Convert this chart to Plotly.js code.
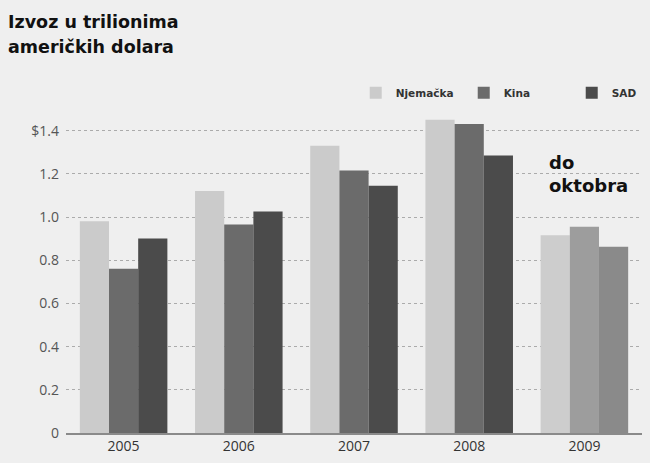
<!DOCTYPE html>
<html>
<head>
<meta charset="utf-8">
<script src="https://cdn.plot.ly/plotly-3.0.1.min.js"></script>
<style>html,body{margin:0;padding:0;background:#efefef;}#chart{width:650px;height:463px;}</style>
</head>
<body>
<div id="chart"></div>
<script>
const years = ['2005', '2006', '2007', '2008', '2009'];
const njemacka = [0.98, 1.12, 1.33, 1.45, 0.915];
const kina = [0.76, 0.965, 1.215, 1.43, 0.955];
const sad = [0.90, 1.025, 1.145, 1.285, 0.862];
const seriesNames = ['Njemačka', 'Kina', 'SAD'];
const titleLines = ['Izvoz u trilionima', 'američkih dolara'];
const noteText = 'do<br>oktobra';
const yTickVals = [0, 0.2, 0.4, 0.6, 0.8, 1.0, 1.2, 1.4];
const yTickText = ['0', '0.2', '0.4', '0.6', '0.8', '1.0', '1.2', '$1.4'];

const colNj = ['#cbcbcb', '#cbcbcb', '#cbcbcb', '#cbcbcb', '#cdcdcd'];
const colKi = ['#6b6b6b', '#6b6b6b', '#6b6b6b', '#6b6b6b', '#9d9d9d'];
const colSa = ['#4b4b4b', '#4b4b4b', '#4b4b4b', '#4b4b4b', '#8a8a8a'];

const traces = [
  {type: 'bar', name: seriesNames[0], x: years, y: njemacka, marker: {color: colNj}},
  {type: 'bar', name: seriesNames[1], x: years, y: kina, marker: {color: colKi}},
  {type: 'bar', name: seriesNames[2], x: years, y: sad, marker: {color: colSa}}
];

const boldFont = {family: 'DejaVu Sans, Liberation Sans, sans-serif', size: 17.5, color: '#111', weight: 'bold'};

const layout = {
  width: 650, height: 463,
  paper_bgcolor: '#efefef', plot_bgcolor: '#efefef',
  margin: {l: 66, r: 8, t: 109, b: 30, autoexpand: false},
  barmode: 'group', bargap: 0.24, bargroupgap: 0,
  xaxis: {
    type: 'category', showgrid: false, zeroline: false,
    showline: true, linecolor: '#8a8a8a', linewidth: 1.5,
    ticks: '', tickfont: {family: 'Open Sans, DejaVu Sans, sans-serif', size: 14, color: '#333'}
  },
  yaxis: {
    range: [0, 1.5], tickvals: yTickVals, ticktext: yTickText,
    showgrid: true, gridcolor: '#ababab', griddash: 'dot', gridwidth: 1,
    zeroline: false, ticks: '', ticklabelstandoff: 6,
    tickfont: {family: 'Open Sans, DejaVu Sans, sans-serif', size: 14, color: '#555'}
  },
  legend: {
    orientation: 'h', x: 0.503, xanchor: 'left', y: 1.05, yanchor: 'middle',
    bgcolor: 'rgba(0,0,0,0)', entrywidth: 63, entrywidthmode: 'pixels', itemwidth: 30,
    font: {family: 'DejaVu Sans, Liberation Sans, sans-serif', size: 10.5, color: '#333', weight: 'bold'}
  },
  annotations: [
    {text: titleLines[0], xref: 'paper', yref: 'paper', x: -0.104, xanchor: 'left',
     y: 1.27, yanchor: 'middle', showarrow: false, font: boldFont},
    {text: titleLines[1], xref: 'paper', yref: 'paper', x: -0.104, xanchor: 'left',
     y: 1.19, yanchor: 'middle', showarrow: false, font: boldFont},
    {text: noteText, xref: 'paper', yref: 'paper',
     x: 0.835, xanchor: 'left', y: 0.80, yanchor: 'middle', align: 'left', showarrow: false,
     font: {family: 'DejaVu Sans, Liberation Sans, sans-serif', size: 18, color: '#111', weight: 'bold'}}
  ],
  showlegend: true
};

Plotly.newPlot('chart', traces, layout, {displayModeBar: false, staticPlot: true});
</script>
</body>
</html>
